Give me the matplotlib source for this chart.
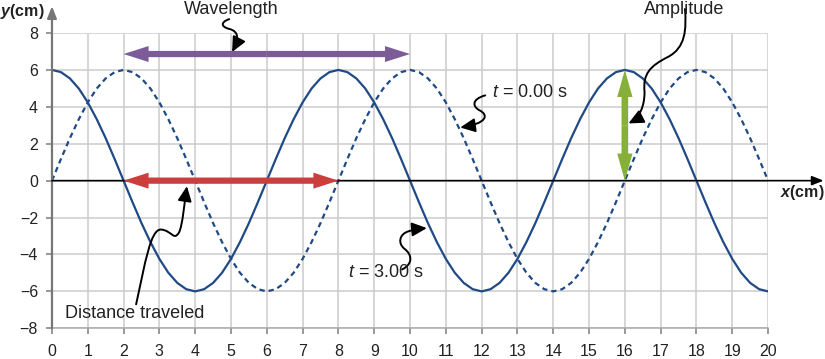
import numpy as np
import matplotlib.pyplot as plt
from matplotlib.path import Path
from matplotlib.patches import FancyArrowPatch

plt.rcParams['font.family'] = ['Liberation Sans', 'DejaVu Sans']
plt.rcParams['mathtext.fontset'] = 'custom'
plt.rcParams['mathtext.rm'] = 'Liberation Sans'
plt.rcParams['mathtext.it'] = 'Liberation Sans:italic'
plt.rcParams['mathtext.bf'] = 'Liberation Sans:bold'
plt.rcParams['mathtext.bfit'] = 'Liberation Sans:italic:bold'

# wave displacement every 0.25 cm
x_cm = np.arange(0, 20.125, 0.25)
y_t3 = [6, 5.88, 5.54, 4.99, 4.24, 3.33, 2.30, 1.17, 0, -1.17, -2.30, -3.33, -4.24, -4.99, -5.54, -5.88,
        -6, -5.88, -5.54, -4.99, -4.24, -3.33, -2.30, -1.17, 0, 1.17, 2.30, 3.33, 4.24, 4.99, 5.54, 5.88,
        6, 5.88, 5.54, 4.99, 4.24, 3.33, 2.30, 1.17, 0, -1.17, -2.30, -3.33, -4.24, -4.99, -5.54, -5.88,
        -6, -5.88, -5.54, -4.99, -4.24, -3.33, -2.30, -1.17, 0, 1.17, 2.30, 3.33, 4.24, 4.99, 5.54, 5.88,
        6, 5.88, 5.54, 4.99, 4.24, 3.33, 2.30, 1.17, 0, -1.17, -2.30, -3.33, -4.24, -4.99, -5.54, -5.88,
        -6]
y_t0 = [0, 1.17, 2.30, 3.33, 4.24, 4.99, 5.54, 5.88, 6, 5.88, 5.54, 4.99, 4.24, 3.33, 2.30, 1.17,
        0, -1.17, -2.30, -3.33, -4.24, -4.99, -5.54, -5.88, -6, -5.88, -5.54, -4.99, -4.24, -3.33, -2.30, -1.17,
        0, 1.17, 2.30, 3.33, 4.24, 4.99, 5.54, 5.88, 6, 5.88, 5.54, 4.99, 4.24, 3.33, 2.30, 1.17,
        0, -1.17, -2.30, -3.33, -4.24, -4.99, -5.54, -5.88, -6, -5.88, -5.54, -4.99, -4.24, -3.33, -2.30, -1.17,
        0, 1.17, 2.30, 3.33, 4.24, 4.99, 5.54, 5.88, 6, 5.88, 5.54, 4.99, 4.24, 3.33, 2.30, 1.17,
        0]

x_ticks = list(range(0, 21))
y_ticks = [-8, -6, -4, -2, 0, 2, 4, 6, 8]

wavelength_span = (2, 10)
wavelength_y = 6.86
distance_span = (2, 8)
amplitude_x = 16
amplitude_span = (0, 6)

BLUE = '#1f4a86'
PURPLE = '#7b5c99'
RED = '#cc3d3d'
GREEN = '#86b03a'

fig = plt.figure(figsize=(8.25, 3.59), dpi=100)
ax = fig.add_axes([0.063, 0.0855, 0.868, 0.8226])

ax.plot(x_cm, y_t3, color=BLUE, lw=1.6, solid_joinstyle='round', zorder=3)
ax.plot(x_cm, y_t0, color=BLUE, lw=1.6, linestyle=(0, (2.4, 1.8)), zorder=3)

ax.set_xlim(0, 20)
ax.set_ylim(-8, 8)
ax.set_xticks(x_ticks)
ax.set_yticks(y_ticks)
ax.grid(True, color='#cccccc', lw=1.1)
ax.set_axisbelow(True)
for s in ['top', 'right', 'left']:
    ax.spines[s].set_visible(False)
ax.spines['bottom'].set_color('#aaaaaa')
ax.spines['bottom'].set_linewidth(1.1)
ax.tick_params(direction='out', length=4, width=1.2, color='#888888',
               labelsize=11.5, labelcolor='#222222')
ax.tick_params(axis='x', pad=7)
ax.tick_params(axis='y', pad=6)

# axis arrows
ax.annotate('', xy=(0, 9.45), xytext=(0, -8),
            arrowprops=dict(arrowstyle='-|>,head_length=0.5,head_width=0.2', color='#777777',
                            lw=1.6, shrinkA=0, shrinkB=0, mutation_scale=14),
            annotation_clip=False, zorder=4)
ax.annotate('', xy=(21.55, 0), xytext=(0, 0),
            arrowprops=dict(arrowstyle='-|>,head_length=0.5,head_width=0.2', color='black',
                            lw=1.2, shrinkA=0, shrinkB=0, mutation_scale=14),
            annotation_clip=False, zorder=4)
ax.text(-0.2, 9.15, r'$\mathbfit{y}$(cm)', ha='right', va='center', fontsize=11.5,
        fontweight='bold', color='#222222')
ax.text(21.58, -0.65, r'$\mathbfit{x}$(cm)', ha='right', va='center', fontsize=11.5,
        fontweight='bold', color='#222222')


def double_arrow(p0, p1, color, style):
    # two filled "simple" arrows from the middle out to both ends
    mid = ((p0[0] + p1[0]) / 2, (p0[1] + p1[1]) / 2)
    for end in (p0, p1):
        ax.annotate('', xy=end, xytext=mid,
                    arrowprops=dict(arrowstyle=style, fc=color, ec='none', lw=0,
                                    shrinkA=0, shrinkB=0, mutation_scale=10), zorder=5)


hv = 'simple,head_length=1.8,head_width=1.15,tail_width=0.45'
double_arrow((wavelength_span[0], wavelength_y), (wavelength_span[1], wavelength_y), PURPLE, hv)
double_arrow((distance_span[0], 0), (distance_span[1], 0), RED, hv)
double_arrow((amplitude_x, amplitude_span[0]), (amplitude_x, amplitude_span[1]), GREEN,
             'simple,head_length=1.95,head_width=1.1,tail_width=0.48')


def leader(verts):
    codes = [Path.MOVETO] + [Path.CURVE4] * (len(verts) - 1)
    p = FancyArrowPatch(path=Path(verts, codes),
                        arrowstyle='-|>,head_length=0.75,head_width=0.35',
                        mutation_scale=12, lw=1.4, color='black', clip_on=False, zorder=6)
    ax.add_patch(p)


leader([(4.95, 8.75), (4.72, 8.6), (4.7, 8.35), (4.95, 8.22),
        (5.25, 8.08), (5.2, 7.6), (5.03, 6.97)])
leader([(17.68, 9.3), (17.72, 8.2), (17.7, 7.2), (17.2, 6.7),
        (16.7, 6.2), (16.5, 5.8), (16.55, 4.8),
        (16.55, 4.0), (16.4, 3.4), (16.1, 3.1)])
leader([(12.1, 4.62), (11.7, 4.4), (11.75, 4.0), (11.95, 3.8),
        (12.2, 3.55), (12.15, 3.1), (11.4, 2.88)])
leader([(9.78, -4.81), (10.1, -4.5), (10.05, -4.0), (9.85, -3.7),
        (9.65, -3.4), (9.7, -2.9), (9.95, -2.75),
        (10.1, -2.65), (10.3, -2.6), (10.47, -2.57)])
leader([(2.35, -6.7), (2.6, -4.5), (2.75, -2.6), (3.05, -2.65),
        (3.35, -2.7), (3.4, -3.3), (3.55, -2.8),
        (3.65, -2.4), (3.7, -1.2), (3.77, -0.3)])

txt = dict(fontsize=13, color='#222222', zorder=7)
ax.text(5.0, 9.25, 'Wavelength', ha='center', va='center', **txt)
ax.text(17.65, 9.25, 'Amplitude', ha='center', va='center', **txt)
ax.text(12.3, 4.8, r'$t$ = 0.00 s', ha='left', va='center', **txt)
ax.text(8.27, -5.0, r'$t$ = 3.00 s', ha='left', va='center', **txt)
ax.text(2.32, -7.2, 'Distance traveled', ha='center', va='center', **txt)

fig.savefig('out.png', dpi=100)
